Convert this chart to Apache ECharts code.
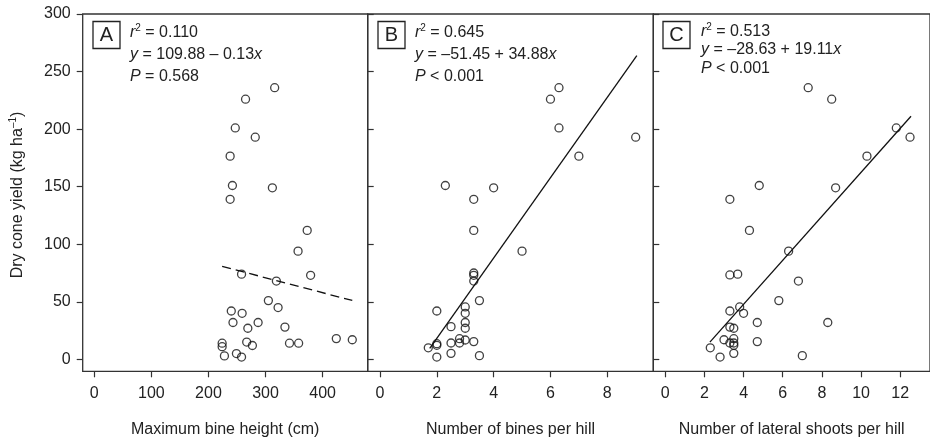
<!DOCTYPE html>
<html>
<head>
<meta charset="utf-8">
<script src="https://cdn.jsdelivr.net/npm/echarts@6/dist/echarts.min.js"></script>
<style>
html,body{margin:0;padding:0;background:#fff;}
#chart{width:930px;height:443px;}
</style>
</head>
<body>
<div id="chart"></div>
<script>
// ---------- Data ----------
// Panel A: maximum bine height (cm) vs dry cone yield
var heightA = [316, 265, 247, 282, 238, 242, 312, 238, 373, 357, 379, 258, 319, 305, 322, 240, 259, 243, 287, 269, 334, 224, 224, 267, 277, 342, 358, 424, 452, 228, 249, 258];
var yieldA  = [236, 226, 201, 193, 176.5, 151, 149, 139, 112, 94, 73, 74, 68, 51, 45, 42, 40, 32, 32, 27, 28, 14, 11, 15, 12, 14, 14, 18, 17, 3, 5, 2];
// Panel B: number of bines per hill
var binesB  = [6.3, 6.0, 6.3, 9.0, 7.0, 2.3, 4.0, 3.3, 3.3, 5.0, 3.3, 3.3, 3.3, 3.5, 3.0, 2.0, 3.0, 3.0, 3.0, 2.5, 1.7, 2.0, 2.0, 2.5, 2.8, 2.8, 3.0, 3.3, 2.0, 2.5, 3.5];
var yieldB  = [236, 226, 201, 193, 176.5, 151, 149, 139, 112, 94, 75, 73, 68, 51, 45.5, 42, 40, 32, 27, 28.4, 10, 13.6, 12.2, 14.2, 17.9, 14.2, 16.8, 15.4, 2, 5.2, 3.2];
// Panel C: number of lateral shoots per hill
var shootsC = [7.3, 8.5, 11.8, 12.5, 10.3, 4.8, 8.7, 3.3, 4.3, 6.3, 3.3, 3.7, 6.8, 5.8, 3.8, 3.3, 4.0, 4.7, 8.3, 3.3, 3.5, 2.3, 3.0, 3.3, 3.5, 3.5, 3.5, 4.7, 2.8, 3.5, 7.0];
var yieldC  = [236, 226, 201, 193, 176.5, 151, 149, 139, 112, 94, 73.3, 74, 68, 51, 45.5, 42, 40, 32, 32, 28, 27, 10, 17, 14.2, 17.9, 14.2, 12.2, 15.4, 2, 5.2, 3.2];

// Regression fits (intercept, slope, x-range of fitted line)
var fitIntercept = [109.88, -51.45, -28.63];
var fitSlope     = [-0.13, 34.88, 19.11];
var fitXRange    = [[224, 452], [1.75, 9.04], [2.28, 12.55]];

// Tick labels
var yTicks  = [0, 50, 100, 150, 200, 250, 300];
var xTicksA = [0, 100, 200, 300, 400];
var xTicksB = [0, 2, 4, 6, 8];
var xTicksC = [0, 2, 4, 6, 8, 10, 12];

// Text
var panelLetters = ['A', 'B', 'C'];
var r2Text   = ['0.110', '0.645', '0.513'];
var eqText   = ['109.88 \u2013 0.13', '\u201351.45 + 34.88', '\u201328.63 + 19.11'];
var pText    = ['= 0.568', '< 0.001', '< 0.001'];
var xTitles  = ['Maximum bine height (cm)', 'Number of bines per hill', 'Number of lateral shoots per hill'];

// ---------- Chart ----------
var FONT = '"Liberation Sans", Arial, sans-serif';
var TXT = '#222';
var LINE = '#333';

function zip(a, b) { return a.map(function (v, i) { return [v, b[i]]; }); }
function fitLine(k) {
  return fitXRange[k].map(function (x) { return [x, fitIntercept[k] + fitSlope[k] * x]; });
}

var gridTop = 14, gridHeight = 357.3;
var grids = [
  { left: 82.7, top: gridTop, width: 285, height: gridHeight },
  { left: 367.7, top: gridTop, width: 285.6, height: gridHeight },
  { left: 653.3, top: gridTop, width: 285.7, height: gridHeight }
].map(function (g) {
  g.show = true; g.borderColor = LINE; g.borderWidth = 1.3; g.backgroundColor = 'transparent';
  return g;
});

var xRanges = [[-20.3, 479], [-0.433, 9.62], [-0.61, 13.52]];
var xTickSets = [xTicksA, xTicksB, xTicksC];

var xAxes = [0, 1, 2].map(function (k) {
  return {
    type: 'value', gridIndex: k, min: xRanges[k][0], max: xRanges[k][1],
    splitLine: { show: false },
    axisLine: { show: false, onZero: false },
    axisTick: { show: true, inside: false, length: 6, customValues: xTickSets[k], lineStyle: { color: LINE, width: 1.2 } },
    axisLabel: { customValues: xTickSets[k], margin: 14, fontSize: 16, color: TXT, fontFamily: FONT },
    name: xTitles[k], nameLocation: 'middle', nameGap: 50,
    nameTextStyle: { fontSize: 16, color: TXT, fontFamily: FONT }
  };
});

var yAxes = [0, 1, 2].map(function (k) {
  return {
    type: 'value', gridIndex: k, min: -10.4, max: 300,
    splitLine: { show: false },
    axisLine: { show: false, onZero: false },
    axisTick: { show: true, inside: k !== 0, length: 6, customValues: yTicks, lineStyle: { color: LINE, width: 1.2 } },
    axisLabel: { show: k === 0, customValues: yTicks, margin: 12, fontSize: 16, color: TXT, fontFamily: FONT }
  };
});

var scatterData = [zip(heightA, yieldA), zip(binesB, yieldB), zip(shootsC, yieldC)];
var series = [];
[0, 1, 2].forEach(function (k) {
  series.push({
    type: 'line', xAxisIndex: k, yAxisIndex: k, data: fitLine(k), symbol: 'none', silent: true,
    lineStyle: { color: '#111', width: 1.3, type: k === 0 ? [9, 5] : 'solid' }, z: 2
  });
  series.push({
    type: 'scatter', xAxisIndex: k, yAxisIndex: k, data: scatterData[k], symbol: 'circle', symbolSize: 8,
    itemStyle: { color: 'rgba(0,0,0,0)', borderColor: '#111', borderWidth: 1.3 }, z: 3
  });
});

// Annotations
var boxLeft = [93, 378, 663];
var textLeft = [130, 415, 701];
var lineY = [[33, 55, 77], [33, 55, 76.5], [31.5, 50, 68.5]];
var rich = {
  i: { fontStyle: 'italic', fontSize: 16, fontFamily: FONT, fill: TXT, color: TXT },
  n: { fontSize: 16, fontFamily: FONT, fill: TXT, color: TXT },
  sup: { fontSize: 10, fontFamily: FONT, fill: TXT, color: TXT, padding: [0, 0, 9, 0] }
};
var graphics = [];
[0, 1, 2].forEach(function (k) {
  graphics.push({ type: 'rect', shape: { x: boxLeft[k], y: 21.5, width: 27, height: 27 },
    style: { fill: 'none', stroke: '#222', lineWidth: 1.3 } });
  graphics.push({ type: 'text', style: { text: panelLetters[k], x: boxLeft[k] + 13.5, y: 35.5,
    align: 'center', verticalAlign: 'middle', font: '20px ' + FONT, fill: TXT } });
  graphics.push({ type: 'text', style: { text: '{i|r}{sup|2}{n| = ' + r2Text[k] + '}', x: textLeft[k], y: lineY[k][0],
    verticalAlign: 'middle', rich: rich, font: '16px ' + FONT, fill: TXT } });
  graphics.push({ type: 'text', style: { text: '{i|y}{n| = ' + eqText[k] + '}{i|x}', x: textLeft[k], y: lineY[k][1],
    verticalAlign: 'middle', rich: rich, font: '16px ' + FONT, fill: TXT } });
  graphics.push({ type: 'text', style: { text: '{i|P}{n| ' + pText[k] + '}', x: textLeft[k], y: lineY[k][2],
    verticalAlign: 'middle', rich: rich, font: '16px ' + FONT, fill: TXT } });
});
// Y-axis title
graphics.push({ type: 'text', x: 18, y: 195, rotation: Math.PI / 2,
  style: { text: '{n|Dry cone yield (kg ha}{sup|\u20131}{n|)}', x: 0, y: 0, align: 'center', verticalAlign: 'middle',
    rich: rich, font: '16px ' + FONT, fill: TXT } });

var chart = echarts.init(document.getElementById('chart'), null, { renderer: 'canvas' });
chart.setOption({
  animation: false,
  backgroundColor: '#fff',
  grid: grids,
  xAxis: xAxes,
  yAxis: yAxes,
  series: series,
  graphic: graphics
});
</script>
</body>
</html>
